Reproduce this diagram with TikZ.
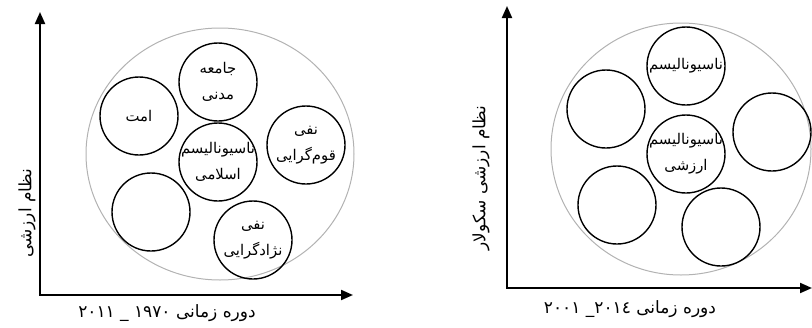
\documentclass[tikz,border=0pt]{standalone}
\usepackage{fontspec}
\usepackage{tikz}
\usetikzlibrary{arrows.meta}
\usetikzlibrary{shapes.geometric}
\newfontfamily\farsi[Script=Arabic]{DejaVu Sans}
\TeXXeTstate=1
\newcommand{\fa}[1]{{\farsi\beginR #1\endR}}
\tikzset{
  axis/.style={line width=2pt,{Triangle[length=12pt,width=10pt]}-{Triangle[length=12pt,width=10pt]}},
  bigring/.style={ellipse,draw=black!30,line width=1pt,inner sep=0pt},
  ring/.style={circle,draw,line width=1.4pt,minimum size=78pt,inner sep=0pt},
  ringtext/.style={align=center,inner sep=0pt,font=\fontsize{14.8}{26}\selectfont},
  axlabel/.style={font=\fontsize{17}{20}\selectfont,inner sep=0pt}
}
\begin{document}
\begin{tikzpicture}[x=1pt,y=-1pt]
\useasboundingbox (0,0) rectangle (812,327);
% first period
\coordinate (o1) at (40,295);
\coordinate (ytip1) at (40,12);
\coordinate (xtip1) at (353,295);
\draw[axis] (ytip1) -- (o1) -- (xtip1);
\node[bigring,minimum width=268pt,minimum height=252pt] (big1) at (220,154) {};
\node[ring,label={[ringtext]center:{\fa{جامعه}\\\fa{مدنی}}}] (jamee) at (218,82) {};
\node[ring,label={[ringtext]center:{\fa{امت}}}] (omat) at (139,116) {};
\node[ring,label={[ringtext]center:{\fa{نفی}\\\fa{قوم‌گرایی}}}] (qom) at (306,145) {};
\node[ring,label={[ringtext]center:{\fa{ناسیونالیسم}\\\fa{اسلامی}}}] (eslami) at (218,162) {};
\node[ring] (empty1) at (151,212) {};
\node[ring,label={[ringtext]center:{\fa{نفی}\\\fa{نژادگرایی}}}] (nejad) at (253,240) {};
\node[axlabel,rotate=90] (ylab1) at (27,213) {\fa{نظام ارزشی}};
\node[axlabel] (xlab1) at (167,313) {\fa{دوره زمانی \beginL۱۹۷۰\endL{} \_ \beginL۲۰۱۱\endL{}}};
% second period
\coordinate (o2) at (507,288);
\coordinate (ytip2) at (507,6);
\coordinate (xtip2) at (812,288);
\draw[axis] (ytip2) -- (o2) -- (xtip2);
\node[bigring,minimum width=260pt,minimum height=252pt] (big2) at (681,149) {};
\node[ring,label={[ringtext]center:{\fa{ناسیونالیسم}}}] (nasio) at (686,66) {};
\node[ring] (empty2) at (606,109) {};
\node[ring] (empty3) at (772,132) {};
\node[ring,label={[ringtext]center:{\fa{ناسیونالیسم}\\\fa{ارزشی}}}] (arzeshi) at (686,154) {};
\node[ring] (empty4) at (617,205) {};
\node[ring] (empty5) at (721,227) {};
\node[axlabel,rotate=90] (ylab2) at (481,178) {\fa{نظام ارزشی سکولار}};
\node[axlabel] (xlab2) at (630,309) {\fa{دوره زمانی \beginL٢٠١٤\endL{}\_ \beginL٢٠٠١\endL{}}};
\end{tikzpicture}
\end{document}
